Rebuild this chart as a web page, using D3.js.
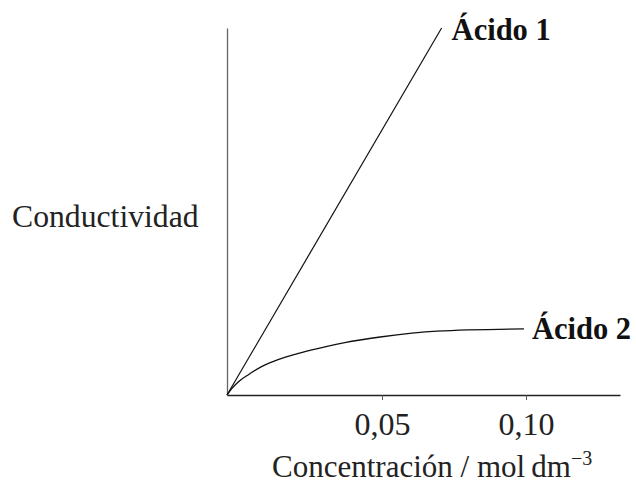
<!DOCTYPE html>
<html><head><meta charset="utf-8">
<script src="https://cdn.jsdelivr.net/npm/d3@7"></script>
<style>body{margin:0;background:#fff}svg{display:block}</style>
</head><body>
<svg id="c" width="636" height="484"></svg>
<script>
// Data (concentration in mol dm^-3, conductivity in arbitrary units 0..1)
const acid1Conc = [0, 0.0707];
const acid1Cond = [0, 1.0];
const acid2Conc = [0, 0.0016, 0.0038, 0.0070, 0.0113, 0.0167, 0.0220, 0.0274, 0.0380, 0.0494, 0.0691, 0.0993];
const acid2Cond = [0, 0.018, 0.037, 0.056, 0.078, 0.097, 0.111, 0.123, 0.143, 0.158, 0.174, 0.180];
const xTicks = [0.05, 0.10];
const seriesLabels = ["Ácido 1", "Ácido 2"];
const yLabel = "Conductividad";
const xLabel = "Concentración / mol\u2009dm";

const svg = d3.select("#c");
const x = d3.scaleLinear().domain([0, 0.05, 0.10, 0.137]).range([227, 382, 526, 620]);
const y = d3.scaleLinear().domain([0, 1]).range([395, 28]);
const font = "'Liberation Serif','Times New Roman',serif";

svg.append("g").attr("transform", "translate(0,395)")
  .call(d3.axisBottom(x).tickValues(xTicks).tickSizeOuter(0).tickSizeInner(5)
    .tickFormat(d => d3.format(".2f")(d).replace(".", ",")))
  .call(g => g.select(".domain").attr("stroke", "#222").attr("stroke-width", 1.3))
  .call(g => g.selectAll(".tick line").attr("stroke", "#555").attr("stroke-width", 1))
  .call(g => g.selectAll(".tick text").attr("dy", null).attr("y", 40)
    .attr("font-family", font).attr("font-size", 32).attr("fill", "#222"));

svg.append("g").attr("transform", "translate(227,0)")
  .call(d3.axisLeft(y).tickValues([]).tickSizeOuter(0))
  .call(g => g.select(".domain").attr("stroke", "#666").attr("stroke-width", 1.3));

const line = d3.line().x(d => x(d[0])).y(d => y(d[1]));
const a1 = acid1Conc.map((c, i) => [c, acid1Cond[i]]);
const a2 = acid2Conc.map((c, i) => [c, acid2Cond[i]]);
svg.append("path").attr("d", line(a1)).attr("fill", "none").attr("stroke", "#111").attr("stroke-width", 1.2);
svg.append("path").attr("d", line.curve(d3.curveMonotoneX)(a2)).attr("fill", "none").attr("stroke", "#111").attr("stroke-width", 1.3);

const last1 = a1[a1.length - 1], last2 = a2[a2.length - 1];
svg.append("text").attr("x", x(last1[0]) + 10).attr("y", y(last1[1]) + 12)
  .attr("font-family", font).attr("font-weight", "bold").attr("font-size", 30.5).attr("fill", "#111")
  .text(seriesLabels[0]);
svg.append("text").attr("x", x(last2[0]) + 8).attr("y", y(last2[1]) + 10)
  .attr("font-family", font).attr("font-weight", "bold").attr("font-size", 30.5).attr("fill", "#111")
  .text(seriesLabels[1]);

svg.append("text").attr("x", 12).attr("y", 227)
  .attr("font-family", font).attr("font-size", 31.7).attr("fill", "#222").text(yLabel);

const xl = svg.append("text").attr("x", 272).attr("y", 477)
  .attr("font-family", font).attr("font-size", 31).attr("fill", "#222");
xl.append("tspan").text(xLabel);
xl.append("tspan").attr("dy", -12).attr("font-size", 20).text("\u22123");
</script>
</body></html>
